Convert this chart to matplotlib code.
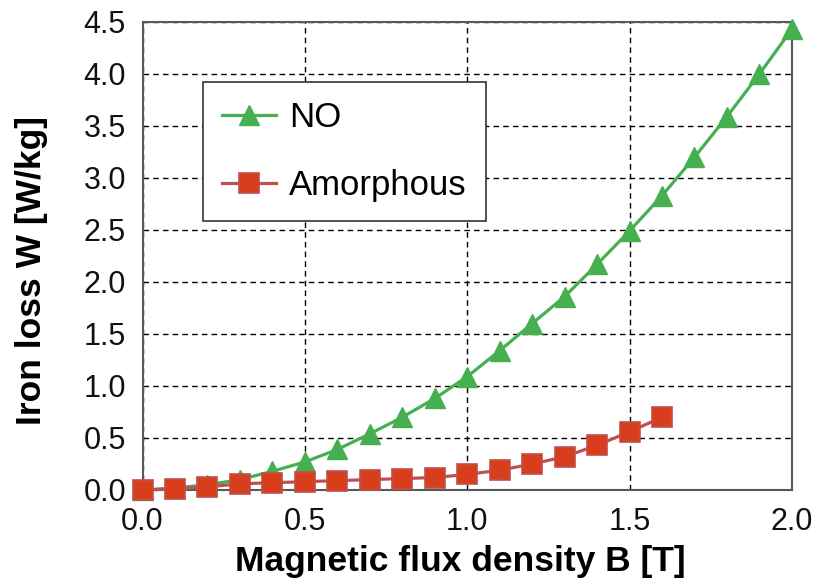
import numpy as np
import matplotlib.pyplot as plt

plt.rcParams['font.family'] = ['Liberation Sans', 'DejaVu Sans']

# flux density steps (T)
b_no = [0.0, 0.1, 0.2, 0.3, 0.4, 0.5, 0.6, 0.7, 0.8, 0.9, 1.0,
        1.1, 1.2, 1.3, 1.4, 1.5, 1.6, 1.7, 1.8, 1.9, 2.0]
b_amor = [0.0, 0.1, 0.2, 0.3, 0.4, 0.5, 0.6, 0.7, 0.8, 0.9, 1.0,
          1.1, 1.2, 1.3, 1.4, 1.5, 1.6]

# iron loss (W/kg)
w_no = [0.0, 0.02, 0.05, 0.10, 0.18, 0.27, 0.39, 0.54, 0.70, 0.88, 1.09,
        1.34, 1.60, 1.86, 2.17, 2.49, 2.83, 3.20, 3.59, 4.00, 4.43]
w_amor = [0.0, 0.01, 0.03, 0.06, 0.07, 0.08, 0.09, 0.10, 0.11, 0.12, 0.15,
          0.19, 0.25, 0.32, 0.43, 0.56, 0.70]

x_ticks = [0.0, 0.5, 1.0, 1.5, 2.0]
y_ticks = [0.0, 0.5, 1.0, 1.5, 2.0, 2.5, 3.0, 3.5, 4.0, 4.5]

green = '#46B050'
red_line = '#C0504D'
red_face = '#D83E1C'

fig = plt.figure(figsize=(8.24, 5.85), dpi=100)
ax = fig.add_axes([0.173, 0.1624, 0.788, 0.8])

ax.plot(b_no, w_no, color=green, lw=2.3, marker='^', ms=15,
        mfc=green, mec=green, label='NO', clip_on=False, zorder=3)
ax.plot(b_amor, w_amor, color=red_line, lw=2.3, marker='s', ms=14,
        mfc=red_face, mec=red_line, mew=1.2, label='Amorphous',
        clip_on=False, zorder=4)

ax.set_xlim(0, 2.0)
ax.set_ylim(0, 4.5)
ax.set_xticks(x_ticks)
ax.set_yticks(y_ticks)
ax.set_xticklabels([f'{v:.1f}' for v in x_ticks])
ax.set_yticklabels([f'{v:.1f}' for v in y_ticks])
ax.tick_params(length=0, labelsize=22, pad=12, colors='#111111')

ax.grid(True, color='black', ls=(0, (4, 3)), lw=1.0)
for s in ax.spines.values():
    s.set_color('#595959')
    s.set_linewidth(1.5)

ax.set_xlabel('Magnetic flux density B [T]', fontsize=25.5, fontweight='bold')
ax.set_ylabel('Iron loss W [W/kg]', fontsize=25.5, fontweight='bold')
ax.xaxis.set_label_coords(0.49, -0.118)
ax.yaxis.set_label_coords(-0.145, 0.47)

leg = ax.legend(loc='upper left', bbox_to_anchor=(0.0925, 0.871),
                borderaxespad=0, fontsize=25, numpoints=1, fancybox=False,
                framealpha=1, edgecolor='#333333', borderpad=0.55,
                labelspacing=1.0, handlelength=1.55, handletextpad=0.4)
leg.get_frame().set_linewidth(1.2)

fig.savefig('out.png', dpi=100)
